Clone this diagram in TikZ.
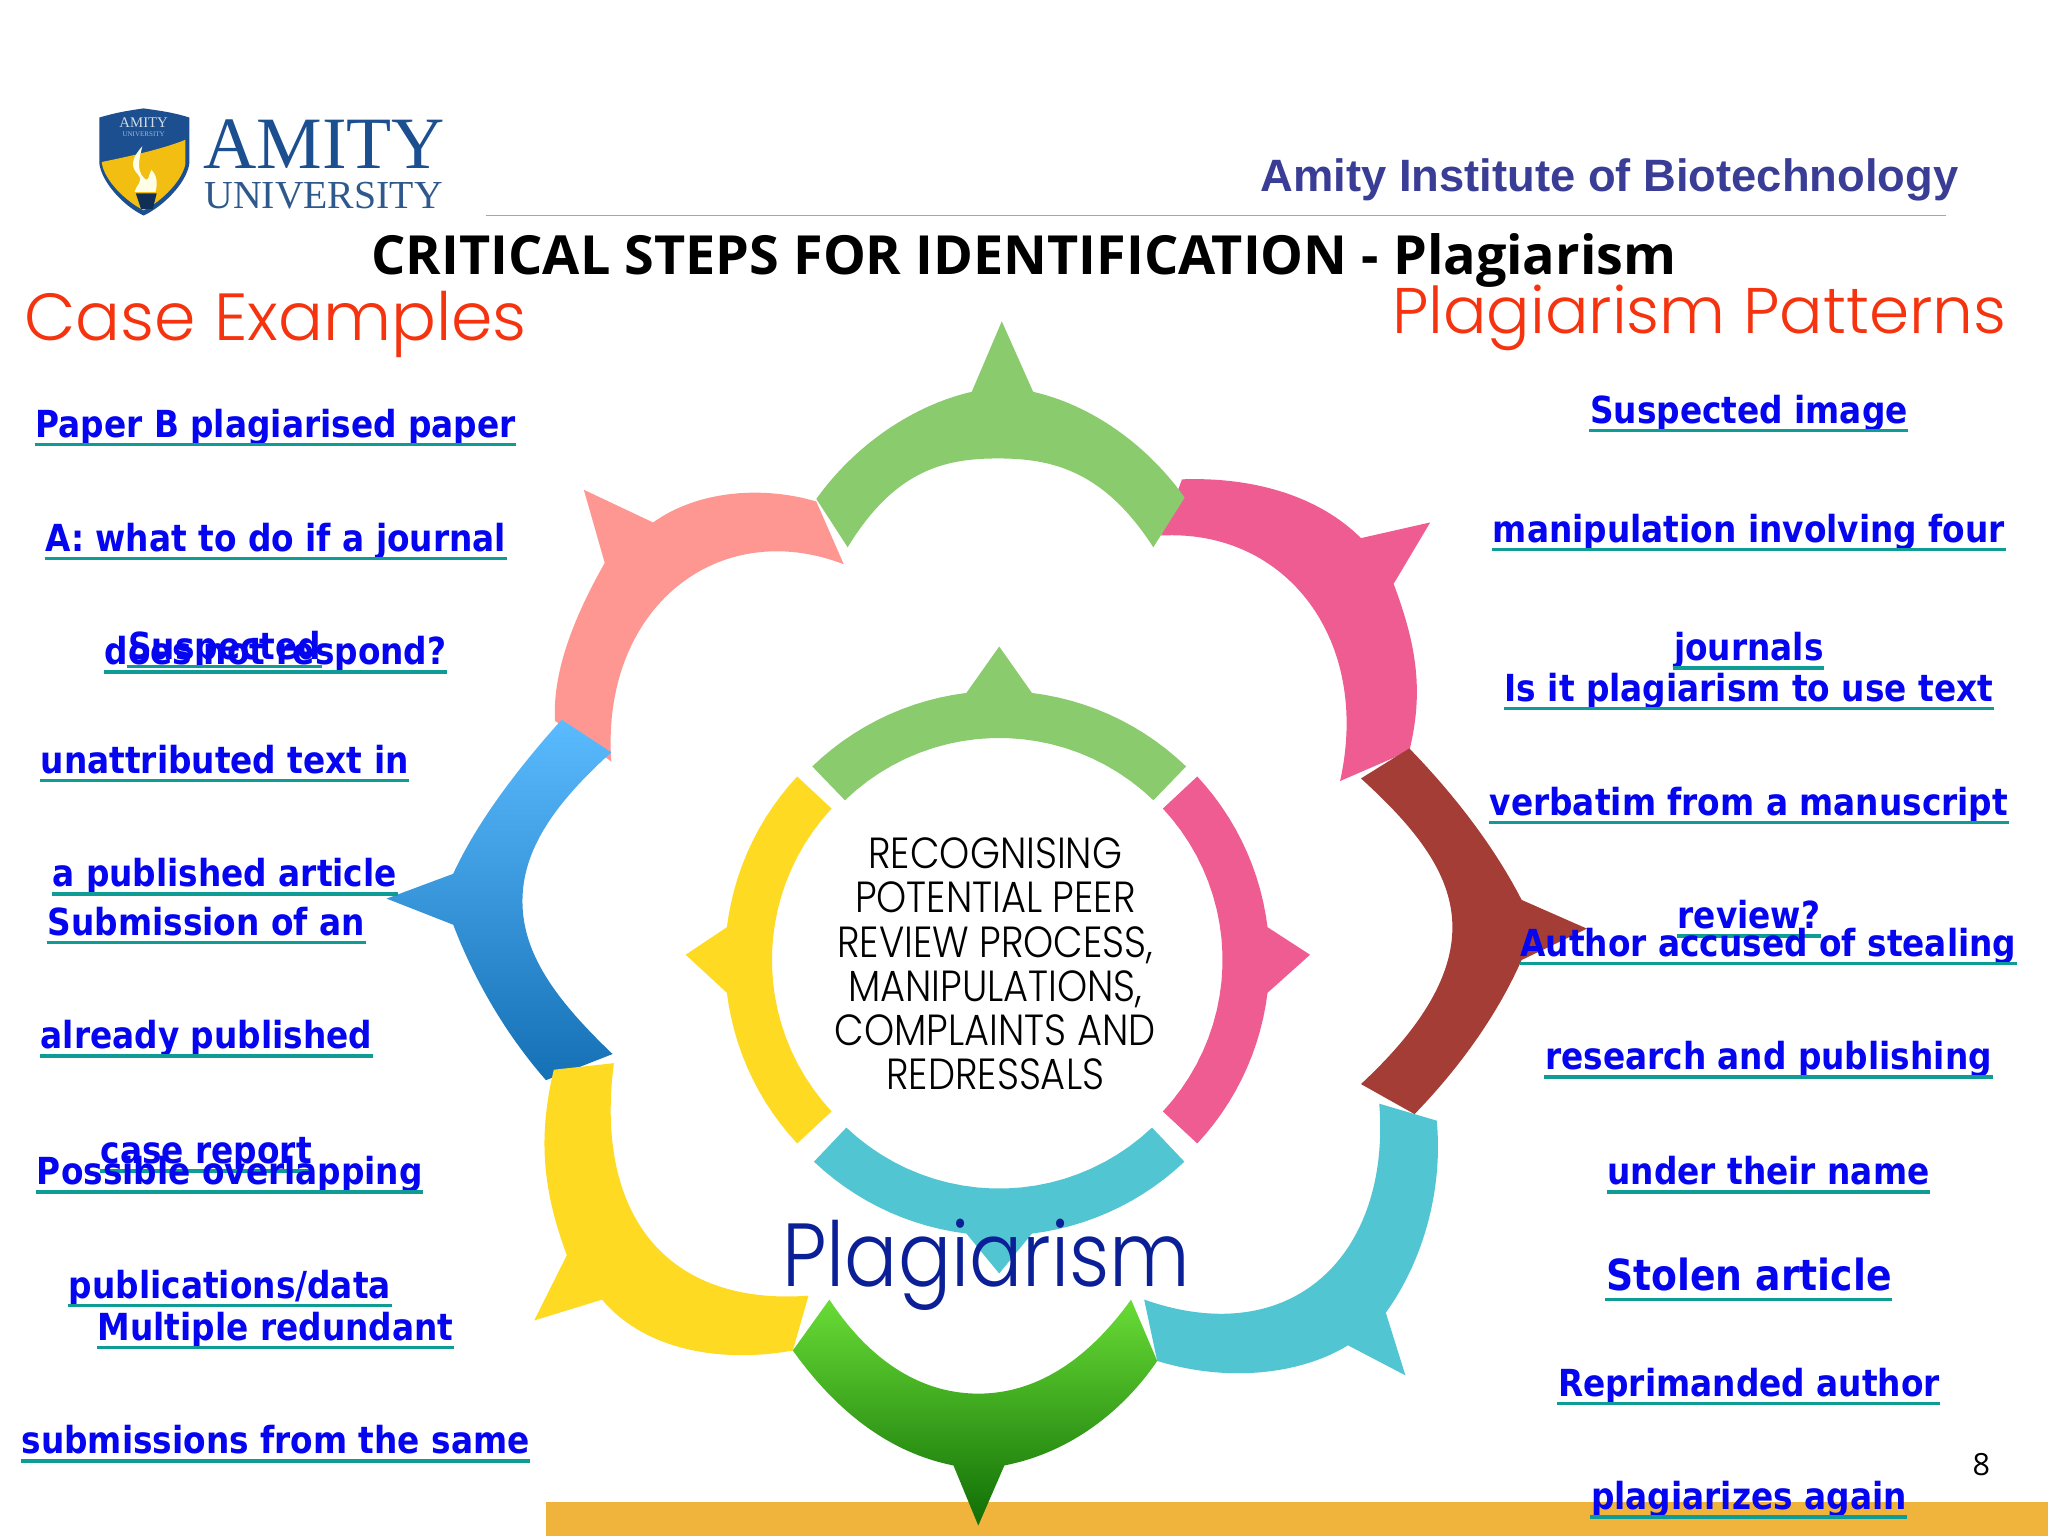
\documentclass[tikz,border=0pt]{standalone}
\usepackage{fontspec}
\usepackage{tikz}
\setmainfont{Open Sans}
\newfontfamily\linkfont[FakeStretch=0.88]{DejaVu Sans Bold}
\newfontfamily\gothicfont{Poppins Light}
\newfontfamily\tallgothic[FakeStretch=0.88]{Poppins Light}
\newfontfamily\logofont{Liberation Serif}
\newfontfamily\headfont{Liberation Sans}

\definecolor{linkblue}{HTML}{0505F0}
\definecolor{linkline}{HTML}{0E9C94}
\definecolor{headred}{HTML}{F5330F}
\definecolor{leafgreen}{HTML}{8ACB6E}
\definecolor{leafpink}{HTML}{EF5C92}
\definecolor{leafsalmon}{HTML}{FE9791}
\definecolor{leafbrown}{HTML}{A43D36}
\definecolor{leafyellow}{HTML}{FEDA22}
\definecolor{leafteal}{HTML}{52C5D2}
\definecolor{barorange}{HTML}{F0B43C}
\definecolor{logoblue}{HTML}{1B4F8F}
\definecolor{logogold}{HTML}{F2BE12}
\definecolor{inkblue}{HTML}{0B1F96}
\definecolor{amityblue}{HTML}{3A3D95}
\definecolor{bluetop}{HTML}{5BBBFF}
\definecolor{bluebot}{HTML}{1570B5}
\definecolor{greentop}{HTML}{69DC36}
\definecolor{greenmid}{HTML}{3F9F22}
\definecolor{greenbot}{HTML}{0F6E05}

\tikzset{
    linktext/.style={anchor=base,inner sep=0pt,text=linkblue,text depth=1.85pt,
        font=\linkfont\fontsize{10.6}{13}\selectfont},
    linkrule/.style={draw=linkline,line width=0.95pt},
    redhead/.style={anchor=base,inner sep=0pt,text=headred},
}

\begin{document}
\begin{tikzpicture}[x=0.0130612cm,y=-0.0130612cm]
    \useasboundingbox (0,0) rectangle (1568,1176);
    \fill[white] (0,0) rectangle (1568,1176);
    \fill[barorange] (418,1150) rectangle (1568,1176);
    \draw[gray!70,line width=0.4pt] (372,165) -- (1490,165);

    % logo
    \fill[logoblue] (76,90) .. controls (90,86) and (96,85) .. (110,83) .. controls (124,85) and (132,86) .. (145,90)
        -- (145,125) .. controls (143,140) and (125,158) .. (110,165) .. controls (95,158) and (78,140) .. (76,125) -- cycle;
    \fill[logogold] (78,124) .. controls (98,120) and (125,114) .. (142,107) -- (142,125)
        .. controls (140,138) and (124,154) .. (110,161) .. controls (96,154) and (80,138) .. (78,125) -- cycle;
    \fill[white!90!yellow] (109,112) .. controls (100,122) and (100,128) .. (106,134) .. controls (110,139) and (104,142) .. (103,147)
        -- (119,147) .. controls (121,140) and (120,134) .. (116,130) .. controls (113,136) and (114,140) .. (110,136)
        .. controls (104,130) and (107,120) .. (109,112) -- cycle;
    \fill[logoblue!60!black] (104,148) -- (120,148) -- (117,160) -- (108,160) -- cycle;
    \node[inner sep=0pt,text=white!80!logoblue,font=\logofont\fontsize{4.2}{5}\selectfont] (shieldtop) at (110,94) {AMITY};
    \node[inner sep=0pt,text=white!60!logoblue,font=\logofont\fontsize{2}{3}\selectfont] (shieldsub) at (110,103) {UNIVERSITY};
    \node[anchor=base west,inner sep=0pt,text=logoblue,font=\logofont\fontsize{21}{24}\selectfont] (amity) at (155,129) {AMITY};
    \node[anchor=base west,inner sep=0pt,text=logoblue!80!gray,font=\logofont\fontsize{11.3}{14}\selectfont] (university) at (156,160) {UNIVERSITY};
    \node[anchor=base east,inner sep=0pt,text=amityblue,font=\headfont\bfseries\fontsize{12.9}{15}\selectfont] (institute) at (1500,147) {Amity Institute of Biotechnology};

    % headings
    \node[anchor=base,inner sep=0pt,font=\bfseries\fontsize{15.35}{19}\selectfont] (title) at (784,210) {CRITICAL STEPS FOR IDENTIFICATION - Plagiarism};
    \node[redhead,font=\gothicfont\fontsize{18.95}{22}\selectfont] (casehead) at (211,261) {Case Examples};
    \node[redhead,font=\gothicfont\fontsize{18.35}{22}\selectfont] (patternhead) at (1301,255) {Plagiarism Patterns};

    % outer leaves
    \fill[leafpink] (905,367) .. controls (960,365) and (1010,380) .. (1042,412) -- (1095,400) -- (1067,447)
        .. controls (1085,495) and (1090,530) .. (1079,575) -- (1026,598)
        .. controls (1050,490) and (985,405) .. (889,410) -- cycle;
    \fill[leafsalmon] (625,384) .. controls (585,372) and (535,375) .. (500,400) -- (447,375) -- (463,431)
        .. controls (435,480) and (423,520) .. (425,552) -- (468,583)
        .. controls (460,465) and (550,395) .. (646,432) -- cycle;
    \fill[leafgreen] (625,382) .. controls (655,340) and (700,310) .. (744,300) -- (767,246) -- (791,300)
        .. controls (835,310) and (878,340) .. (907,381) -- (883,419)
        .. controls (845,360) and (805,351) .. (764,351) .. controls (723,351) and (685,360) .. (649,419) -- cycle;
    \fill[leafbrown] (1079,573) .. controls (1115,610) and (1145,650) .. (1165,689) -- (1215,711) -- (1165,735)
        .. controls (1145,780) and (1115,820) .. (1083,853) -- (1042,830)
        .. controls (1085,790) and (1112,750) .. (1112,710) .. controls (1112,670) and (1085,635) .. (1042,596) -- cycle;
    \shade[top color=bluetop,bottom color=bluebot] (430,551) .. controls (395,590) and (365,630) .. (347,669) -- (296,688) -- (347,708)
        .. controls (365,755) and (390,795) .. (418,827) -- (469,807)
        .. controls (425,765) and (400,730) .. (400,690) .. controls (400,650) and (425,615) .. (468,576) -- cycle;
    \fill[leafteal] (1056,845) -- (1100,858) .. controls (1105,910) and (1090,965) .. (1061,1005) -- (1076,1053) -- (1032,1030)
        .. controls (1000,1050) and (945,1060) .. (886,1042) -- (876,995)
        .. controls (990,1035) and (1065,960) .. (1056,845) -- cycle;
    \fill[leafyellow] (424,819) .. controls (412,870) and (415,910) .. (434,961) -- (409,1011) -- (461,995)
        .. controls (490,1030) and (545,1045) .. (607,1034) -- (619,992)
        .. controls (510,1000) and (455,930) .. (470,814) -- cycle;
    \shade[top color=greentop,middle color=greenmid,bottom color=greenbot] (607,1034)
        .. controls (640,1080) and (680,1112) .. (730,1122) -- (749,1168) -- (769,1122)
        .. controls (820,1112) and (860,1080) .. (886,1042) -- (866,995)
        .. controls (830,1045) and (790,1067) .. (749,1067) .. controls (708,1067) and (668,1045) .. (635,995) -- cycle;

    % inner ring
    \foreach \ringcol/\ccx/\ccy/\midang/\halfang/\tipx/\tipy in {leafgreen/765/735/90/44/765/495,leafpink/766/735/0/43/1003/731,leafteal/765/740/270/43.5/765/975,leafyellow/761/735/180/43/525/731}
        \fill[\ringcol] plot[domain={\midang+\halfang}:{\midang+7},samples=14,variable=\t] ({\ccx+206*cos(\t)},{\ccy-206*sin(\t)})
            -- (\tipx,\tipy)
            -- plot[domain={\midang-7}:{\midang-\halfang},samples=14,variable=\t] ({\ccx+206*cos(\t)},{\ccy-206*sin(\t)})
            -- plot[domain={\midang-\halfang}:{\midang+\halfang},samples=24,variable=\t] ({\ccx+170*cos(\t)},{\ccy-170*sin(\t)}) -- cycle;

    \node[align=center,inner sep=0pt,font=\tallgothic\fontsize{12.4}{12.6}\selectfont] (centertext) at (762,738)
        {RECOGNISING\\POTENTIAL PEER\\REVIEW PROCESS,\\MANIPULATIONS,\\COMPLAINTS AND\\REDRESSALS};
    \node[anchor=base,inner sep=0pt,text=inkblue,font=\tallgothic\fontsize{25.5}{30}\selectfont] (wheelname) at (755,985) {Plagiarism};

    % case examples and patterns
    \foreach \nm/\cx/\by/\txt in {
        paperb/211/335/Paper B plagiarised paper,
        journal/211/422/A: what to do if a journal,
        respond/211/509/does not respond?,
        suspected/172/505/Suspected,
        unattrib/172/592/unattributed text in,
        article/172/679/a published article,
        submission/158/716/Submission of an,
        published/158/803/already published,
        report/158/891/case report,
        overlapping/176/907/Possible overlapping,
        pubdata/176/994/{publications/data},
        redundant/211/1026/Multiple redundant,
        samesub/211/1113/submissions from the same,
        image/1339/324/Suspected image,
        manip/1339/415/manipulation involving four,
        journals/1339/506/journals,
        verbatimuse/1339/537/Is it plagiarism to use text,
        manuscript/1339/624/verbatim from a manuscript,
        review/1339/711/review?,
        stealing/1354/732/Author accused of stealing,
        publishing/1354/819/research and publishing,
        theirname/1354/907/under their name,
        reprimanded/1339/1069/Reprimanded author,
        again/1339/1156/plagiarizes again}
    {
        \node[linktext] (\nm) at (\cx,\by) {\txt};
        \draw[linkrule] (\nm.south west) -- (\nm.south east);
    }
    \node[linktext,text depth=2.4pt,font=\linkfont\fontsize{12.2}{15}\selectfont] (stolen) at (1339,988) {Stolen article};
    \draw[linkrule] (stolen.south west) -- (stolen.south east);

    \node[anchor=base,inner sep=0pt,font=\fontsize{8.7}{10}\selectfont] (pagenum) at (1517,1130) {8};
\end{tikzpicture}
\end{document}
